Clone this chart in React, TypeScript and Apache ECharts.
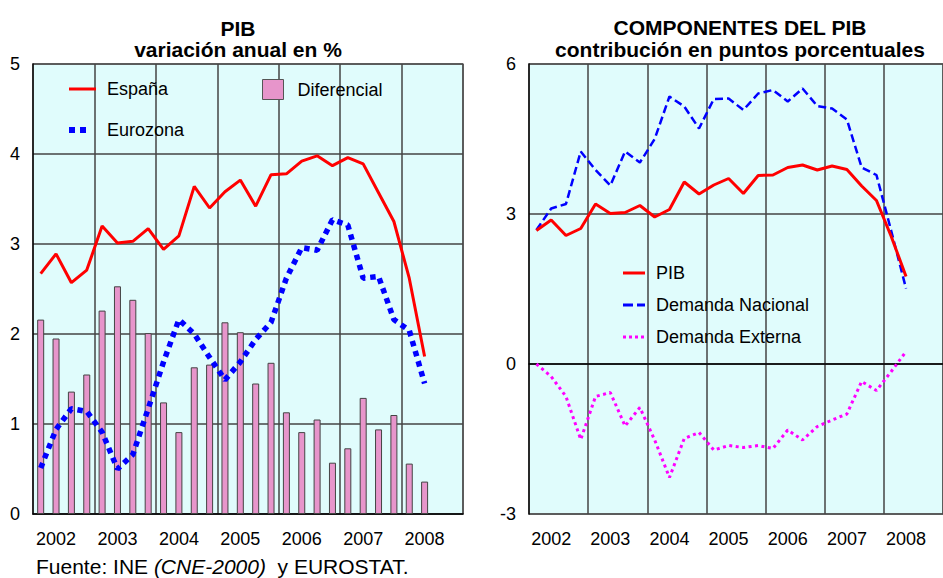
import React, { useEffect, useRef } from "react";
import * as echarts from "echarts";

const years = ["2002", "2003", "2004", "2005", "2006", "2007", "2008"];
const quarterNames = ["T1", "T2", "T3", "T4"];

// Left panel: PIB variación anual en %
const espana = [2.67, 2.89, 2.57, 2.71, 3.2, 3.01, 3.03, 3.17, 2.94, 3.09, 3.64, 3.4, 3.58, 3.71, 3.42, 3.77, 3.78, 3.92, 3.98, 3.87, 3.96, 3.89, 3.57, 3.25, 2.62, 1.75];
const eurozona = [0.51, 0.94, 1.17, 1.14, 0.91, 0.5, 0.66, 1.17, 1.69, 2.16, 2.0, 1.74, 1.49, 1.69, 1.94, 2.13, 2.62, 2.96, 2.93, 3.27, 3.21, 2.62, 2.64, 2.16, 2.04, 1.45];
const diferencial = [2.16, 1.95, 1.36, 1.55, 2.26, 2.53, 2.38, 2.01, 1.24, 0.91, 1.63, 1.66, 2.13, 2.02, 1.45, 1.68, 1.13, 0.91, 1.05, 0.57, 0.73, 1.29, 0.94, 1.1, 0.56, 0.36];

// Right panel: componentes del PIB
const pib = [2.67, 2.88, 2.57, 2.71, 3.2, 3.01, 3.03, 3.17, 2.94, 3.09, 3.64, 3.4, 3.58, 3.71, 3.41, 3.77, 3.78, 3.93, 3.98, 3.88, 3.96, 3.89, 3.56, 3.27, 2.55, 1.75];
const demandaNacional = [2.68, 3.11, 3.2, 4.25, 3.88, 3.57, 4.25, 4.03, 4.5, 5.35, 5.15, 4.71, 5.3, 5.31, 5.08, 5.41, 5.48, 5.25, 5.51, 5.16, 5.11, 4.89, 3.93, 3.78, 2.66, 1.51];
const demandaExterna = [0.0, -0.25, -0.65, -1.51, -0.65, -0.57, -1.24, -0.87, -1.52, -2.27, -1.49, -1.37, -1.72, -1.63, -1.67, -1.63, -1.69, -1.32, -1.52, -1.25, -1.12, -1.0, -0.35, -0.53, -0.15, 0.25];

const leftTicks = [0, 5, 1];
const rightTicks = [-3, 6, 3];

const categories = years.flatMap((y) => quarterNames.map((q) => `${y} ${q}`));

const FONT = "'Liberation Sans', Arial, Helvetica, sans-serif";

export default function App() {
  const ref = useRef<HTMLDivElement>(null);

  useEffect(() => {
    if (!ref.current) return;
    const chart = echarts.init(ref.current, undefined, { renderer: "svg" });

    const xAxisFor = (gridIndex: number) => ({
      type: "category",
      gridIndex,
      data: categories,
      boundaryGap: true,
      axisLine: { show: true, lineStyle: { color: "#000", width: 1.5 } },
      axisTick: { show: false },
      axisLabel: {
        interval: (i: number) => i % 4 === 1,
        formatter: (v: string) => v.slice(0, 4),
        fontSize: 18,
        color: "#000",
        fontFamily: FONT,
        margin: 16,
      },
      splitLine: {
        show: true,
        interval: (i: number) => i % 4 === 0 && i > 0,
        lineStyle: { color: "#444", width: 1.5 },
      },
    });

    const yAxisFor = (gridIndex: number, t: number[]) => ({
      type: "value",
      gridIndex,
      min: t[0],
      max: t[1],
      interval: t[2],
      axisLine: { show: true, lineStyle: { color: "#000", width: 1.5 } },
      axisTick: { show: false },
      axisLabel: { fontSize: 18, color: "#000", fontFamily: FONT, margin: 13 },
      splitLine: { show: true, lineStyle: { color: "#444", width: 1.5 } },
    });

    const mkLegend = (
      name: string,
      icon: string,
      w: number,
      h: number,
      left: number,
      top: number,
      pad: number,
      itemStyle: any = { borderWidth: 0 }
    ) => ({
      data: [{ name, icon }],
      left,
      top,
      padding: 0,
      itemWidth: w,
      itemHeight: h,
      selectedMode: false,
      itemStyle,
      textStyle: { fontSize: 18, color: "#000", fontFamily: FONT, lineHeight: 20, padding: [0, 0, 0, pad] },
    });

    const titleLine = (text: string, left: number, top: number) => ({
      text,
      left,
      top,
      textAlign: "center",
      padding: 0,
      textStyle: { fontSize: 21, fontWeight: "bold", color: "#000", fontFamily: FONT, lineHeight: 21 },
    });

    const option: any = {
      animation: false,
      backgroundColor: "#fff",
      textStyle: { fontFamily: FONT },
      title: [
        titleLine("PIB", 238, 18),
        titleLine("variación anual en %", 238, 39),
        titleLine("COMPONENTES DEL PIB", 740, 17),
        titleLine("contribución en puntos porcentuales", 740, 39),
      ],
      grid: [
        { left: 33, top: 64, width: 430, height: 450, show: true, backgroundColor: "#e0fcfc", borderColor: "#888", borderWidth: 1.5 },
        { left: 529, top: 64, width: 427, height: 450, show: true, backgroundColor: "#e0fcfc", borderColor: "#888", borderWidth: 1.5 },
      ],
      xAxis: [xAxisFor(0), xAxisFor(1)],
      yAxis: [yAxisFor(0, leftTicks), yAxisFor(1, rightTicks)],
      legend: [
        mkLegend("España", "path://M0,0H27V3H0Z", 27, 3, 69, 79, 6),
        mkLegend("Eurozona", "path://M0,0H6V6H0Z M11,0H17V6H11Z", 17, 6, 69, 120, 16),
        mkLegend("Diferencial", "rect", 21, 20, 262, 79, 9, { borderWidth: 1, borderColor: "#555" }),
        mkLegend("PIB", "path://M0,0H22V3H0Z", 22, 3, 623, 263, 6),
        mkLegend("Demanda Nacional", "path://M0,0H10V3H0Z M14,0H22V3H14Z", 22, 3, 623, 295, 6),
        mkLegend("Demanda Externa", "path://M0,0H3V3H0Z M6,0H9V3H6Z M12,0H15V3H12Z M18,0H21V3H18Z", 21, 3, 623, 327, 7),
      ],
      series: [
        {
          name: "Diferencial",
          type: "bar",
          xAxisIndex: 0,
          yAxisIndex: 0,
          data: diferencial,
          barWidth: 7,
          itemStyle: { color: "#e795cb", borderColor: "#444", borderWidth: 1 },
          z: 2,
        },
        {
          name: "España",
          type: "line",
          xAxisIndex: 0,
          yAxisIndex: 0,
          data: espana,
          symbol: "none",
          color: "#ff0000",
          itemStyle: { color: "#ff0000" },
          lineStyle: { color: "#ff0000", width: 3 },
          z: 4,
        },
        {
          name: "Eurozona",
          type: "line",
          xAxisIndex: 0,
          yAxisIndex: 0,
          data: eurozona,
          symbol: "none",
          color: "#0000ff",
          itemStyle: { color: "#0000ff" },
          lineStyle: { color: "#0000ff", width: 5.5, type: [5.5, 5], cap: "butt" },
          z: 3,
        },
        {
          name: "PIB",
          type: "line",
          xAxisIndex: 1,
          yAxisIndex: 1,
          data: pib,
          symbol: "none",
          color: "#ff0000",
          itemStyle: { color: "#ff0000" },
          lineStyle: { color: "#ff0000", width: 3 },
          z: 4,
        },
        {
          name: "Demanda Nacional",
          type: "line",
          xAxisIndex: 1,
          yAxisIndex: 1,
          data: demandaNacional,
          symbol: "none",
          color: "#0000ff",
          itemStyle: { color: "#0000ff" },
          lineStyle: { color: "#0000ff", width: 2.5, type: [8, 4] },
          z: 3,
        },
        {
          name: "Demanda Externa",
          type: "line",
          xAxisIndex: 1,
          yAxisIndex: 1,
          data: demandaExterna,
          symbol: "none",
          color: "#ff00ff",
          itemStyle: { color: "#ff00ff" },
          lineStyle: { color: "#ff00ff", width: 3, type: [3, 3.5] },
          z: 3,
        },
      ],
      graphic: [
        {
          type: "text",
          left: 36,
          top: 556,
          style: {
            text: "Fuente: INE {i|(CNE-2000)}  y EUROSTAT.",
            rich: { i: { fontStyle: "italic", fontSize: 21, fontFamily: FONT, fill: "#000" } },
            fontSize: 21,
            fontFamily: FONT,
            fill: "#000",
          },
        },
      ],
    };

    chart.setOption(option);
    return () => chart.dispose();
  }, []);

  return (
    <div
      ref={ref}
      style={{ position: "fixed", left: 0, top: 0, width: 943, height: 578, overflow: "hidden", background: "#fff" }}
    />
  );
}
